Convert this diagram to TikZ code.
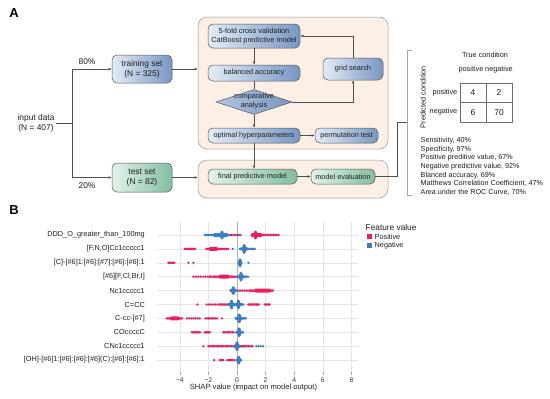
\documentclass[tikz,border=0pt]{standalone}
\usepackage{fontspec}
\setmainfont{Liberation Sans}
\usetikzlibrary{shapes.geometric,arrows.meta}

\definecolor{peach}{HTML}{FCEFE5}
\definecolor{blueLight}{HTML}{E3ECF6}
\definecolor{blueDark}{HTML}{7896C4}
\definecolor{greenLight}{HTML}{E4F2EA}
\definecolor{greenDark}{HTML}{82BEA2}
\definecolor{boxline}{HTML}{555555}
\definecolor{arrowgray}{HTML}{505050}
\definecolor{txt}{HTML}{1E1E1E}
\definecolor{shapRed}{HTML}{EE1E5A}
\definecolor{shapBlue}{HTML}{3C7DC8}

\newcommand{\fsmall}{\fontsize{7.3}{9}\selectfont}
\newcommand{\fmid}{\fontsize{8.4}{10}\selectfont}

% one row of beeswarm dots: y, from, to, step, colour
\newcommand{\shaprun}[5]{%
  \pgfmathtruncatemacro{\nrun}{round((#3-(#2))/#4)}%
  \foreach \i in {0,...,\nrun}{\fill[#5] ({#2+\i*#4},#1) circle (1.3pt);}}
% dense strip: y, from, to, colour
\newcommand{\shapband}[4]{\fill[#4,rounded corners=1.6pt] ({#2},{#1-2}) rectangle ({#3},{#1+2});}
% stacked cluster: y, x, colour, half width, half height
\newcommand{\shapbulb}[5]{%
  \fill[#3] (#2,#1) ellipse [x radius=#4pt, y radius=2pt];
  \fill[#3] (#2,#1) ellipse [x radius=2.1pt, y radius=#5pt];}

\begin{document}
\begin{tikzpicture}[x=1pt,y=-1pt,
  plain/.style={font=\fmid,text=txt,inner sep=1pt,align=center},
  panel/.style={draw=gray!80,fill=peach,rounded corners=9pt,line width=0.5pt},
  bluebox/.style={draw=boxline,rounded corners=5pt,left color=blueLight,right color=blueDark,
    font=\fsmall,text=txt,align=center,inner sep=1pt,line width=0.5pt},
  greenbox/.style={bluebox,left color=greenLight,right color=greenDark},
  arr/.style={-{Latex[length=3.2pt,width=2.6pt]},draw=arrowgray,line width=0.5pt},
  link/.style={draw=arrowgray,line width=0.5pt},
  cell/.style={draw=gray!85!black,minimum width=26pt,minimum height=19.5pt,font=\fmid,text=txt,inner sep=0pt},
  gridline/.style={draw=gray!20,line width=0.6pt},
  labfont/.style={font=\bfseries\fontsize{13}{13}\selectfont,text=black},
  legsquare/.style={minimum size=5pt,inner sep=0pt}]
\useasboundingbox[fill=white] (0,0) rectangle (550,399);

% ---------- A: workflow ----------
\node[labfont] (labA) at (14,13) {A};
\node[panel,minimum width=190pt,minimum height=132pt] (upperPanel) at (293,83) {};
\node[panel,minimum width=190pt,minimum height=38pt] (lowerPanel) at (293,179) {};

\node[plain] (input) at (36,123) {input data\\(N = 407)};
\coordinate (fork) at (72,123);
\node[bluebox,font=\fmid,minimum width=60pt,minimum height=28pt] (train) at (142,69) {training set\\(N = 325)};
\node[greenbox,font=\fmid,minimum width=60pt,minimum height=29pt] (test) at (142,177.5) {test set\\(N = 82)};
\node[plain] (pctTrain) at (87,62) {80\%};
\node[plain] (pctTest) at (87,186) {20\%};

\node[bluebox,minimum width=92pt,minimum height=24pt] (cv) at (254,36) {5-fold cross validation\\CatBoost predictive model};
\node[bluebox,minimum width=92pt,minimum height=16pt] (bacc) at (254,73) {balanced accuracy};
\node[diamond,draw=boxline,left color=blueLight!55!blueDark,right color=blueDark,line width=0.5pt,
  minimum width=76pt,minimum height=25pt,inner sep=0pt] (compare) at (254,102) {};
\node[plain,font=\fsmall] (compareText) at (254,101.5) {comparative\\analysis};
\node[bluebox,minimum width=92pt,minimum height=15pt] (optimal) at (254,135.5) {optimal hyperparameters};
\node[bluebox,minimum width=63pt,minimum height=15pt] (perm) at (346.5,135.5) {permutation test};
\node[bluebox,minimum width=60pt,minimum height=22pt] (grid) at (353,69) {grid search};
\node[greenbox,minimum width=89pt,minimum height=15pt] (final) at (252.5,176.5) {final predictive model};
\node[greenbox,minimum width=64pt,minimum height=15pt] (evaluation) at (343,176.5) {model evaluation};

\draw[link] (input.east) -- (fork);
\draw[arr] (fork) |- (train.west);
\draw[arr] (fork) |- (test.west);
\draw[arr] (train.east) -- (train.east -| upperPanel.west);
\draw[arr] (test.east) -- (test.east -| lowerPanel.west);
\draw[arr] (cv) -- (bacc);
\draw[link] (bacc) -- (compare);
\draw[arr] (compare) -- (optimal);
\draw[arr] (compare.east) -| (grid.south);
\draw[arr] (grid.north) |- (cv.east);
\draw[arr] (optimal) -- (perm);
\draw[arr] (optimal.south) -- (optimal.south |- final.north);
\draw[arr] (final) -- (evaluation);
\coordinate (elbow) at (397,122);
\coordinate (bracketMid) at (407,122);
\draw[link] (evaluation.east) -| (elbow) -- (bracketMid);
\draw[draw=gray!70,line width=0.5pt] (412,50) -- (407,50) -- (407,195) -- (412,195);

% confusion matrix
\node[plain,font=\fsmall] (trueCond) at (485,55) {True condition};
\node[plain,font=\fsmall] (colPos) at (471,70) {positive};
\node[plain,font=\fsmall] (colNeg) at (499,70) {negative};
\node[plain,font=\fsmall,anchor=east] (rowPos) at (458.5,92.5) {positive};
\node[plain,font=\fsmall,anchor=east] (rowNeg) at (458.5,111.5) {negative};
\node[plain,font=\fsmall,rotate=90] (predCond) at (423,97) {Predicted condition};
\node[cell] (pp) at (473,92.75) {4};
\node[cell] (pn) at (499,92.75) {2};
\node[cell] (np) at (473,112.25) {6};
\node[cell] (nn) at (499,112.25) {70};
\node[plain,font=\fontsize{7.2}{8.7}\selectfont,align=left,anchor=north west] (metrics) at (419.5,136) {Sensitivity, 40\%\\Specificity, 97\%\\Positive preditive value, 67\%\\Negative predictive value, 92\%\\Blanced accuracy, 69\%\\Matthews Correlation Coefficient, 47\%\\Area under the ROC Curve, 70\%};

% ---------- B: SHAP summary ----------
\node[labfont] (labB) at (14,210) {B};
\node[plain,font=\fsmall,anchor=east] (feat1) at (146,235) {DDD\_O\_greater\_than\_100mg};
\node[plain,font=\fsmall,anchor=east] (feat2) at (146,248.9) {[F,N,O]Cc1ccccc1};
\node[plain,font=\fsmall,anchor=east] (feat3) at (146,262.8) {[C]-[\#6]1:[\#6]:[\#7]:[\#6]:[\#6]:1};
\node[plain,font=\fsmall,anchor=east] (feat4) at (146,276.7) {[\#6][F,Cl,Br,I]};
\node[plain,font=\fsmall,anchor=east] (feat5) at (146,290.6) {Nc1ccccc1};
\node[plain,font=\fsmall,anchor=east] (feat6) at (146,304.5) {C=CC};
\node[plain,font=\fsmall,anchor=east] (feat7) at (146,318.4) {C-cc-[\#7]};
\node[plain,font=\fsmall,anchor=east] (feat8) at (146,332.3) {COccccC};
\node[plain,font=\fsmall,anchor=east] (feat9) at (146,346.2) {CNc1ccccc1};
\node[plain,font=\fsmall,anchor=east] (feat10) at (146,360.1) {[OH]-[\#6]1:[\#6]:[\#6]:[\#6](C):[\#6]:[\#6]:1};

\begin{scope}[shift={(237,0)},x=14.3pt]
\foreach \v in {-4,-2,...,8} \draw[gridline] (\v,222) -- (\v,372);
\foreach \r in {0,...,9} \draw[gridline] (-5.59,{235+13.9*\r}) -- (8.46,{235+13.9*\r});
\draw[draw=gray!60,line width=0.9pt] (0,222) -- (0,372);
\foreach \v/\t in {-4/−4,-2/−2,0/0,2/2,4/4,6/6,8/8}{
  \draw[draw=gray!70] (\v,372) -- (\v,374.5);
  \node[plain,font=\fontsize{6.8}{8}\selectfont,text=gray!40!black] (tick\v) at (\v,380) {\t};}
% row 1
\shaprun{235}{-2.25}{-0.45}{0.07}{shapBlue}
\shapband{235}{-1.7}{-0.6}{shapBlue}
\shapbulb{235}{-1.05}{shapBlue}{6}{4.5}
\shaprun{235}{-0.4}{0.25}{0.13}{shapRed}
\shaprun{235}{0.0}{0.2}{0.2}{shapBlue}
\shapband{235}{0.95}{1.8}{shapRed}
\shaprun{235}{1.8}{2.9}{0.11}{shapRed}
\shapbulb{235}{1.3}{shapRed}{5}{4.5}
% row 2
\shaprun{248.9}{-3.65}{-2.95}{0.08}{shapRed}
\shaprun{248.9}{-2.15}{-0.6}{0.09}{shapRed}
\shapband{248.9}{-2.0}{-1.3}{shapRed}
\shaprun{248.9}{-0.3}{-0.3}{1}{shapBlue}
\shaprun{248.9}{0.2}{1.25}{0.08}{shapBlue}
\shapbulb{248.9}{0.5}{shapBlue}{5}{5}
% row 3
\shaprun{262.8}{-4.8}{-4.35}{0.07}{shapRed}
\shaprun{262.8}{-3.4}{-3.4}{1}{shapRed}
\shaprun{262.8}{-3.05}{-3.05}{1}{shapRed}
\shapbulb{262.8}{0.21}{shapBlue}{2.5}{4.5}
\shaprun{262.8}{0.8}{0.8}{1}{shapBlue}
% row 4
\shaprun{276.7}{-3.05}{-1.9}{0.17}{shapRed}
\shaprun{276.7}{-1.9}{0}{0.08}{shapRed}
\shapband{276.7}{-1.3}{-0.5}{shapRed}
\shaprun{276.7}{0.05}{0.75}{0.08}{shapBlue}
\shapbulb{276.7}{0.28}{shapBlue}{4}{5}
% row 5
\shaprun{290.6}{0.15}{0.9}{0.12}{shapRed}
\shaprun{290.6}{0.9}{2.5}{0.07}{shapRed}
\shapband{290.6}{1.2}{2.4}{shapRed}
\shaprun{290.6}{-0.45}{0.05}{0.08}{shapBlue}
\shapbulb{290.6}{-0.26}{shapBlue}{4}{4.5}
% row 6
\shaprun{304.5}{-2.77}{-2.77}{1}{shapRed}
\shaprun{304.5}{-2.12}{-1.2}{0.15}{shapRed}
\shaprun{304.5}{-1.2}{-0.6}{0.07}{shapRed}
\shaprun{304.5}{-0.6}{0.45}{0.07}{shapBlue}
\shapbulb{304.5}{-0.38}{shapBlue}{4}{5}
\shapbulb{304.5}{0.1}{shapBlue}{4}{5}
\shaprun{304.5}{0.8}{1.5}{0.08}{shapRed}
\shaprun{304.5}{1.95}{2.3}{0.08}{shapRed}
% row 7
\shaprun{318.4}{-4.9}{-3.85}{0.07}{shapRed}
\shapband{318.4}{-4.7}{-4.0}{shapRed}
\shaprun{318.4}{-3.5}{-2.6}{0.15}{shapRed}
\shaprun{318.4}{-2.2}{-1.4}{0.1}{shapRed}
\shaprun{318.4}{-1.05}{-1.05}{1}{shapRed}
\shaprun{318.4}{-0.1}{0.65}{0.08}{shapBlue}
\shapbulb{318.4}{0.16}{shapBlue}{4}{5}
% row 8
\shaprun{332.3}{-3.15}{-2.6}{0.07}{shapRed}
\shaprun{332.3}{-2.25}{-1.9}{0.07}{shapRed}
\shaprun{332.3}{-0.95}{-0.25}{0.09}{shapRed}
\shaprun{332.3}{-0.05}{0.45}{0.08}{shapBlue}
\shapbulb{332.3}{0.15}{shapBlue}{3.5}{5}
% row 9
\shaprun{346.2}{-2.35}{-2.35}{1}{shapRed}
\shaprun{346.2}{-2.0}{-0.15}{0.09}{shapRed}
\shaprun{346.2}{-0.2}{0.5}{0.08}{shapBlue}
\shapbulb{346.2}{0.0}{shapBlue}{4}{5}
\shaprun{346.2}{0.3}{1.1}{0.1}{shapRed}
\shaprun{346.2}{1.35}{1.85}{0.16}{shapBlue}
% row 10
\shaprun{360.1}{-1.6}{-1.6}{1}{shapRed}
\shaprun{360.1}{-1.2}{-0.95}{0.06}{shapRed}
\shaprun{360.1}{-0.7}{-0.25}{0.08}{shapRed}
\shaprun{360.1}{-0.05}{0.32}{0.07}{shapBlue}
\shapbulb{360.1}{0.12}{shapBlue}{3}{4.5}
\end{scope}
\node[plain,font=\fontsize{7.6}{9}\selectfont,text=gray!30!black] (xlabel) at (253.5,388) {SHAP value (impact on model output)};

% legend
\node[plain,font=\fontsize{8.3}{10}\selectfont,anchor=west] (legTitle) at (364.5,228) {Feature value};
\node[legsquare,fill=shapRed] (legRed) at (369.2,236.8) {};
\node[legsquare,fill=shapBlue] (legBlue) at (369.2,245.2) {};
\node[plain,font=\fsmall,anchor=west] (legPos) at (373.5,236.8) {Positive};
\node[plain,font=\fsmall,anchor=west] (legNeg) at (373.5,245.2) {Negative};
\end{tikzpicture}
\end{document}
